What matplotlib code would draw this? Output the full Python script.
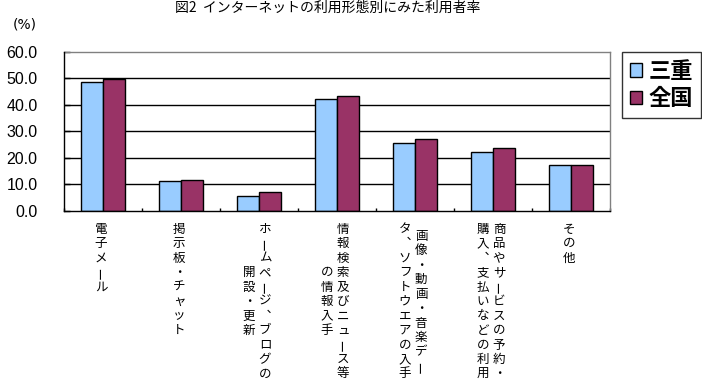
import numpy as np
import matplotlib
matplotlib.use("Agg")
from matplotlib import pyplot as plt

plt.rcParams["font.family"] = ["Noto Sans CJK JP", "DejaVu Sans"]

# data
categories = ["電子メール", "掲示板・チャット", "ホームページ、ブログの開設・更新",
              "情報検索及びニュース等の情報入手", "画像・動画・音楽データ、ソフトウエアの入手",
              "商品やサービスの予約・購入、支払いなどの利用", "その他"]
# vertical label columns, right column first
label_columns = [
    ["電子メール"],
    ["掲示板・チャット"],
    ["ホームページ、ブログの", "開設・更新"],
    ["情報検索及びニュース等", "の情報入手"],
    ["画像・動画・音楽デー", "タ、ソフトウエアの入手"],
    ["商品やサービスの予約・", "購入、支払いなどの利用"],
    ["その他"],
]
mie = [48.5, 11.2, 5.5, 42.1, 25.5, 22.1, 17.3]
zenkoku = [49.6, 11.6, 7.0, 43.2, 27.0, 23.6, 17.3]
series_names = ["三重", "全国"]
series_colors = ["#99CCFF", "#993366"]
yticks = [0, 10, 20, 30, 40, 50, 60]
title = "図2  インターネットの利用形態別にみた利用者率"

W, H = 702, 382
fig = plt.figure(figsize=(W / 100, H / 100), dpi=100)
ax = fig.add_axes([64 / W, (H - 211) / H, 546 / W, 159.3 / H])

x = np.arange(len(categories))
bw = 0.28
ax.bar(x - bw / 2, mie, bw, color=series_colors[0], edgecolor="black", linewidth=1, label=series_names[0], zorder=3)
ax.bar(x + bw / 2, zenkoku, bw, color=series_colors[1], edgecolor="black", linewidth=1, label=series_names[1], zorder=3)

ax.set_xlim(-0.5, len(categories) - 0.5)
ax.set_ylim(0, 60)
ax.set_yticks(yticks)
ax.set_yticklabels([f"{v:.1f}" for v in yticks], fontsize=11.5, family="Liberation Sans")
ax.tick_params(axis="y", direction="in", length=4.2, width=1, pad=19)
ax.set_xticks(np.arange(len(categories) + 1) - 0.5)
ax.set_xticklabels([])
ax.tick_params(axis="x", direction="in", length=2.4, width=1)

for v in yticks[1:-1]:
    ax.axhline(v, color="black", linewidth=1, zorder=1)

for s in ["left", "bottom"]:
    ax.spines[s].set_color("black")
    ax.spines[s].set_linewidth(1)
for s in ["top", "right"]:
    ax.spines[s].set_color("#808080")
    ax.spines[s].set_linewidth(1)
ax.spines["left"].set_zorder(4)
ax.spines["bottom"].set_zorder(4)

# vertical Japanese category labels, one character per cell
vmap = {"、": "︑"}
px = 0.72
pitch = 14.5
for i, cols in enumerate(label_columns):
    ncol = len(cols)
    maxn = max(len(c) for c in cols)
    for j, col in enumerate(cols):
        dx = ((ncol - 1) / 2 - j) * 16 - 2
        for k, ch in enumerate(col):
            dy = 18 + (maxn - len(col)) * pitch / 2 + k * pitch
            rot = 90 if ch == "ー" else 0
            ax.annotate(vmap.get(ch, ch), xy=(i, 0), xycoords=ax.get_xaxis_transform(),
                        xytext=(dx * px, -dy * px), textcoords="offset points",
                        ha="center", va="center", fontsize=9, rotation=rot,
                        rotation_mode="anchor", annotation_clip=False)

fig.text(328 / W, 1 - 8 / H, title, ha="center", va="center", fontsize=10)
fig.text(25 / W, 1 - 24.5 / H, "(%)", ha="center", va="center", fontsize=10, family="DejaVu Sans")

leg = ax.legend(loc="upper right", bbox_to_anchor=(701 / W, 1 - 52 / H), bbox_transform=fig.transFigure,
                fancybox=False, frameon=True, prop={"size": 16, "weight": "bold"},
                handlelength=0.55, handleheight=0.55, handletextpad=0.3, labelspacing=0.2,
                borderpad=0.35, borderaxespad=0)
leg.get_frame().set_edgecolor("black")
leg.get_frame().set_linewidth(1)

fig.savefig("out.png", dpi=100)
